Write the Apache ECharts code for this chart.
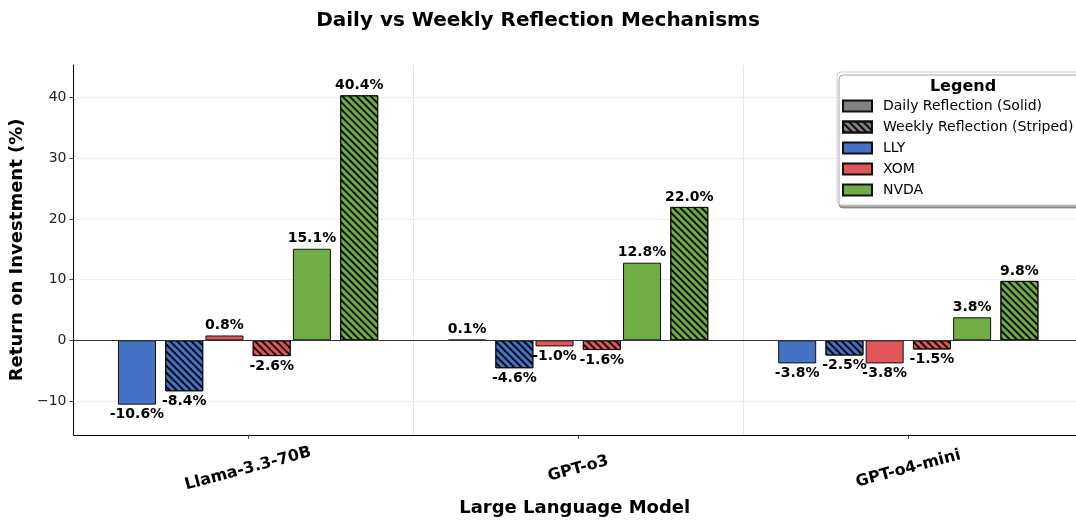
<!DOCTYPE html>
<html>
<head>
<meta charset="utf-8">
<script src="https://cdn.jsdelivr.net/npm/echarts@6/dist/echarts.min.js"></script>
<style>html,body{margin:0;padding:0;background:#fff}#c{width:1076px;height:522px}</style>
</head>
<body>
<div id="c"></div>
<script>
// ---- data ----
const models = ['Llama-3.3-70B', 'GPT-o3', 'GPT-o4-mini'];
const stocks = ['LLY', 'XOM', 'NVDA'];
const llyDaily = [-10.6, 0.1, -3.8];
const llyWeekly = [-8.4, -4.6, -2.5];
const xomDaily = [0.8, -1.0, -3.8];
const xomWeekly = [-2.6, -1.6, -1.5];
const nvdaDaily = [15.1, 12.8, 3.8];
const nvdaWeekly = [40.4, 22.0, 9.8];
const yTicks = [-10, 0, 10, 20, 30, 40];
const legendNames = ['Daily Reflection (Solid)', 'Weekly Reflection (Striped)', 'LLY', 'XOM', 'NVDA'];

// ---- styling / layout ----
const FONT = 'DejaVu Sans';
const colors = { LLY: '#4472C4', XOM: '#E15759', NVDA: '#70AD47' };
const stockOffset = 0.265;
const dwOffset = 0.0716;
const hatch = {
  symbol: 'rect', symbolSize: 1,
  dashArrayX: [1, 0], dashArrayY: [1.3, 2.6],
  rotation: Math.PI / 4, color: 'rgba(0,0,0,0.9)'
};

const daily = { LLY: llyDaily, XOM: xomDaily, NVDA: nvdaDaily };
const weekly = { LLY: llyWeekly, XOM: xomWeekly, NVDA: nvdaWeekly };

const barData = [];
models.forEach((m, g) => {
  stocks.forEach((s, j) => {
    [['d', daily[s][g]], ['w', weekly[s][g]]].forEach(([kind, v]) => {
      const x = g + (j - 1) * stockOffset + (kind === 'd' ? -dwOffset : dwOffset);
      const item = {
        value: [x, v],
        itemStyle: { color: colors[s], borderColor: '#111', borderWidth: 1 },
        label: { position: v >= 0 ? 'top' : 'bottom' }
      };
      if (kind === 'w') item.itemStyle.decal = hatch;
      barData.push(item);
    });
  });
});

const legendSeries = legendNames.map((n, i) => {
  let color = '#808080', decal = null;
  if (i >= 2) color = colors[n];
  if (i === 1) decal = hatch;
  const it = { color, borderColor: '#111', borderWidth: 1 };
  if (decal) it.decal = decal;
  return { name: n, type: 'bar', xAxisIndex: 1, yAxisIndex: 1, data: [], itemStyle: it };
});

const chart = echarts.init(document.getElementById('c'), null, { renderer: 'canvas' });
const xMin = -0.529, xMax = 2.508;
chart.setOption({
  animation: false,
  textStyle: { fontFamily: FONT },
  title: [
    { text: 'Daily vs Weekly Reflection Mechanisms', left: 'center', top: 6,
      textStyle: { fontFamily: FONT, fontSize: 20, fontWeight: 'bold', color: '#000' } },
    { text: 'Legend', left: 958, textAlign: 'center', top: 74,
      textStyle: { fontFamily: FONT, fontSize: 16, fontWeight: 'bold', color: '#000' } }
  ],
  legend: {
    data: legendNames,
    orient: 'vertical',
    left: 837, top: 72,
    padding: [27, 8, 8, 5],
    itemWidth: 29, itemHeight: 11, itemGap: 7,
    backgroundColor: '#fff',
    borderColor: '#cccccc', borderWidth: 1, borderRadius: 4,
    shadowColor: 'rgba(0,0,0,0.35)', shadowOffsetX: 2, shadowOffsetY: 3, shadowBlur: 0,
    selectedMode: false,
    textStyle: { fontFamily: FONT, fontSize: 14, color: '#000', padding: [0, 0, 0, 6] },
    icon: 'rect'
  },
  grid: { left: 71, right: 0, top: 65, bottom: 85, containLabel: false },
  xAxis: [
    {
      type: 'value', min: xMin, max: xMax,
      name: 'Large Language Model', nameLocation: 'middle', nameGap: 64,
      nameTextStyle: { fontFamily: FONT, fontSize: 18, fontWeight: 'bold', color: '#000' },
      axisLine: { show: true, onZero: false, lineStyle: { color: '#000', width: 1 } },
      axisTick: { show: true, customValues: [0, 1, 2], length: 4, lineStyle: { color: '#444' } },
      axisLabel: {
        customValues: [0, 1, 2], rotate: 15, align: 'center', verticalAlign: 'middle', margin: 34,
        formatter: v => models[Math.round(v)] || '',
        fontFamily: FONT, fontSize: 16, fontWeight: 'bold', color: '#000'
      },
      splitLine: { show: false }
    },
    {
      type: 'value', min: xMin, max: xMax, show: true, position: 'bottom',
      axisLine: { show: false }, axisLabel: { show: false },
      axisTick: { show: false, customValues: [0.5, 1.5] },
      splitLine: { show: true, lineStyle: { color: '#e6e6e6', width: 1 } }
    }
  ],
  yAxis: [
    {
      type: 'value', min: -15.57, max: 45.4,
      name: 'Return on Investment (%)', nameLocation: 'middle', nameGap: 43, nameRotate: 90,
      nameTextStyle: { fontFamily: FONT, fontSize: 18, fontWeight: 'bold', color: '#000' },
      axisLine: { show: true, onZero: false, lineStyle: { color: '#000', width: 1 } },
      axisTick: { show: true, customValues: yTicks, length: 4, lineStyle: { color: '#444' } },
      axisLabel: {
        customValues: yTicks, margin: 7,
        formatter: v => (v < 0 ? '\u2212' + Math.abs(v) : String(v)),
        fontFamily: FONT, fontSize: 14, color: '#222'
      },
      splitLine: { show: true, lineStyle: { color: '#efefef', width: 1 } }
    },
    { type: 'value', min: 0, max: 1, show: false }
  ],
  series: [
    {
      name: 'ROI', type: 'bar', xAxisIndex: 0, yAxisIndex: 0,
      barWidth: 38,
      data: barData,
      label: {
        show: true, distance: 3,
        formatter: p => p.value[1].toFixed(1) + '%',
        fontFamily: FONT, fontSize: 14, fontWeight: 'bold', color: '#000'
      },
      markLine: {
        silent: true, symbol: 'none', label: { show: false },
        lineStyle: { color: '#333', width: 1, type: 'solid' },
        data: [{ yAxis: 0 }]
      },
      z: 3
    }
  ].concat(legendSeries)
});
</script>
</body>
</html>
